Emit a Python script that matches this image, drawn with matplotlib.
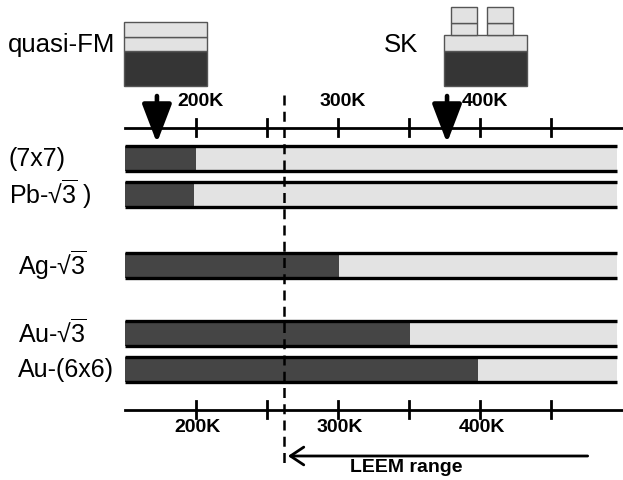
import matplotlib
matplotlib.use("Agg")
import matplotlib.pyplot as plt
from matplotlib.patches import Rectangle, FancyArrowPatch

plt.rcParams['font.family'] = ['Liberation Sans', 'DejaVu Sans']
plt.rcParams['mathtext.fontset'] = 'custom'
plt.rcParams['mathtext.rm'] = 'Liberation Sans'
plt.rcParams['mathtext.it'] = 'Liberation Sans'

# ---- data ----
phases = ['(7x7)', 'Pb-√$\\overline{3}$ )', 'Ag-√$\\overline{3}$', 'Au-√$\\overline{3}$', 'Au-(6x6)']
transition_K = [200, 199, 301, 351, 399]
bar_start_K = 150
bar_end_K = 497
axis_ticks = [200, 250, 300, 350, 400, 450]
tick_labels = {200: '200K', 300: '300K', 400: '400K'}
leem_limit_K = 262.5
leem_end_K = 478
quasi_fm_K = 172.7
sk_K = 377

# layout (pixel rows)
bar_rows = [158.7, 194.5, 265.5, 333, 369.7]
label_x_px = [8, 9, 18, 18, 18]
bar_h = 25

DARK = '#454545'
LIGHT = '#e3e3e3'
BOX_DARK = '#353535'
BOX_LIGHT = '#e2e2e2'

fig = plt.figure(figsize=(6.23, 4.80), dpi=100)
ax = fig.add_axes([0, 0, 1, 1])
px_per_K = 1.42
x0 = 200 - 195.7 / px_per_K
x1 = 200 + (623 - 195.7) / px_per_K
ax.set_xlim(x0, x1)
ax.set_ylim(480, 0)
ax.axis('off')

def px2K(px):
    return x0 + px / px_per_K

# bars
for name, tk, yc, lx in zip(phases, transition_K, bar_rows, label_x_px):
    ax.barh(yc, tk - bar_start_K, left=bar_start_K, height=bar_h, color=DARK, edgecolor='none')
    ax.barh(yc, bar_end_K - tk, left=tk, height=bar_h, color=LIGHT, edgecolor='none')
    for yy in (yc - bar_h / 2, yc + bar_h / 2):
        ax.plot([bar_start_K, bar_end_K], [yy, yy], color='black', lw=2.4, solid_capstyle='butt')
    ax.text(px2K(lx), yc, name, fontsize=18, ha='left', va='center')

# axes lines with ticks
for yax, ly in ((128, 101), (410, 428)):
    ax.plot([bar_start_K, x1], [yax, yax], color='black', lw=2.0)
    for t in axis_ticks:
        ax.plot([t, t], [yax - 9, yax + 8], color='black', lw=2.0)
        if t in tick_labels:
            dx = 5 if yax == 128 else 2
            ax.text(t + dx / px_per_K, ly, tick_labels[t], fontsize=14, fontweight='bold',
                    ha='center', va='center')

# LEEM dashed line
ax.plot([leem_limit_K, leem_limit_K], [95, 468], color='black', lw=1.8,
        linestyle=(0, (4, 2.5)))
# LEEM range arrow
arr = FancyArrowPatch((leem_end_K, 456), (leem_limit_K + 0.5, 456), arrowstyle='->,head_length=6,head_width=4',
                      color='black', lw=2.0, mutation_scale=1.6)
ax.add_patch(arr)
ax.text(px2K(406), 468, 'LEEM range', fontsize=14, fontweight='bold', ha='center', va='center')

# down arrows
for xk in (quasi_fm_K, sk_K):
    ax.annotate('', xy=(xk, 143), xytext=(xk, 96),
                arrowprops=dict(arrowstyle='-|>,head_length=1.7,head_width=0.65', color='black',
                                lw=3.3, mutation_scale=14, shrinkA=0, shrinkB=0))

# cartoons
def box(xl_px, yt, xr_px, yb, fc):
    ax.add_patch(Rectangle((px2K(xl_px), yt), px2K(xr_px) - px2K(xl_px), yb - yt,
                           facecolor=fc, edgecolor='#555555', lw=1.0))

# quasi-FM: substrate + two flat layers
box(124, 51, 207, 86, BOX_DARK)
box(124, 37, 207, 51, BOX_LIGHT)
box(124, 22, 207, 37, BOX_LIGHT)
ax.text(px2K(8), 45, 'quasi-FM', fontsize=18.5, ha='left', va='center')

# SK: substrate + wetting layer + islands
box(444, 51, 527, 86, BOX_DARK)
box(444, 35, 527, 51, BOX_LIGHT)
for xl, xr in ((450.7, 477), (486.7, 512.7)):
    box(xl, 22.7, xr, 35, BOX_LIGHT)
    box(xl, 7.3, xr, 22.7, BOX_LIGHT)
ax.text(px2K(418), 45, 'SK', fontsize=18.5, ha='right', va='center')

fig.savefig('out.png', dpi=100)
